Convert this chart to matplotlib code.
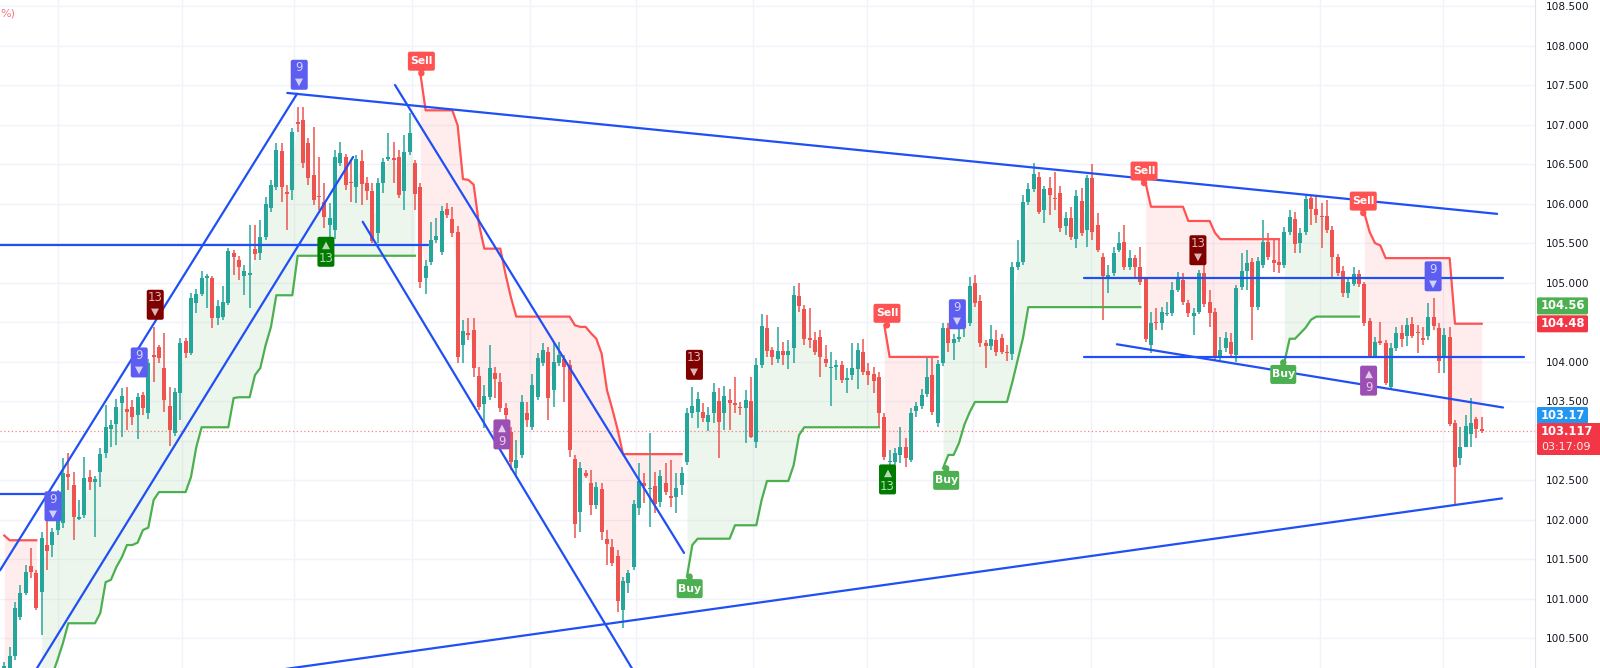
import numpy as np
import matplotlib
matplotlib.use("Agg")
import matplotlib.pyplot as plt
from matplotlib.patches import FancyBboxPatch, Circle, Polygon
from matplotlib.transforms import IdentityTransform

# ---------------- data ----------------
ohlc = [
 (100.05,100.20,99.95,100.15),(100.02,100.39,99.95,100.27),(100.28,100.96,100.23,100.88),(100.77,101.17,100.73,101.07),
 (101.07,101.43,101.05,101.34),(101.42,101.64,101.26,101.34),(101.33,101.36,100.86,100.88),(101.09,101.84,100.54,101.77),
 (101.68,102.03,101.36,101.61),(101.68,101.89,101.53,101.84),(101.87,102.38,101.81,102.31),(101.96,102.78,101.89,102.59),
 (102.58,102.84,102.38,102.54),(102.44,102.60,101.74,102.04),(102.01,102.25,102.00,102.04),(102.06,102.79,102.02,102.53),
 (102.54,102.63,102.38,102.48),(102.48,102.55,101.78,102.52),(102.60,102.91,102.41,102.83),(102.84,103.45,102.78,103.17),
 (103.15,103.26,102.92,103.20),(103.21,103.53,102.95,103.43),(103.48,103.67,103.05,103.57),(103.40,103.68,103.14,103.36),
 (103.43,103.52,103.20,103.30),(103.33,103.60,103.02,103.55),(103.58,103.62,103.33,103.41),(103.35,104.04,103.27,103.98),
 (104.08,104.44,103.74,104.06),(104.19,104.21,103.98,104.05),(103.92,104.36,103.36,103.52),(103.44,103.68,102.93,103.14),
 (103.10,103.67,103.06,103.62),(103.60,104.30,103.26,104.24),(104.26,104.30,104.05,104.11),(104.11,104.87,104.08,104.81),
 (104.74,104.92,104.61,104.86),(104.86,105.15,104.83,105.06),(105.06,105.11,104.68,105.08),(105.06,105.08,104.43,104.55),
 (104.55,104.78,104.46,104.70),(104.57,104.96,104.53,104.76),(104.74,105.44,104.72,105.40),(105.38,105.41,105.10,105.33),
 (105.29,105.34,105.03,105.20),(105.08,105.22,104.84,105.15),(105.10,105.73,104.68,105.12),(105.43,105.73,105.29,105.36),
 (105.37,105.79,105.29,105.58),(105.58,106.08,105.54,106.00),(105.94,106.30,105.89,106.24),(106.21,106.77,106.17,106.68),
 (106.67,106.77,106.02,106.21),(106.15,106.24,105.67,106.12),(106.17,106.96,106.05,106.91),(107.03,107.22,106.91,107.01),
 (107.06,107.22,106.45,106.51),(106.77,106.83,106.24,106.33),(106.36,106.97,105.98,106.05),(106.10,106.59,105.92,106.08),
 (106.02,106.26,105.69,105.83),(105.73,106.01,105.58,105.82),(105.67,106.68,105.55,106.59),(106.51,106.78,106.48,106.64),
 (106.59,106.63,106.17,106.24),(106.27,106.55,106.02,106.26),(106.21,106.61,106.01,106.56),(106.54,106.68,105.98,106.25),
 (106.26,106.34,106.05,106.16),(106.16,106.26,105.50,105.53),(105.63,106.33,105.50,106.26),(106.26,106.58,106.13,106.53),
 (106.56,106.89,106.54,106.59),(106.58,106.78,106.26,106.55),(106.59,106.68,106.07,106.11),(106.16,106.87,105.92,106.65),
 (106.65,107.15,106.61,106.89),(106.51,106.55,105.92,106.12),(106.21,106.26,104.93,105.01),(105.06,105.29,104.86,105.21),
 (105.26,105.77,105.22,105.54),(105.54,105.82,105.50,105.59),(105.39,105.97,105.35,105.91),(105.93,106.01,105.82,105.86),
 (105.81,105.96,105.58,105.63),(105.64,105.72,103.98,104.06),(104.21,104.53,103.98,104.39),(104.36,104.55,104.27,104.34),
 (104.40,104.55,103.81,103.92),(103.82,103.93,103.39,103.43),(103.46,103.70,103.16,103.57),(103.55,104.21,103.52,103.92),
 (103.86,103.93,103.54,103.78),(103.74,103.86,103.36,103.41),(103.41,103.48,103.10,103.33),(103.11,103.17,102.63,102.73),
 (102.65,103.01,102.57,102.76),(102.82,103.58,102.78,103.49),(103.35,103.49,103.17,103.26),(103.17,103.84,103.14,103.70),
 (103.55,104.11,103.52,104.05),(103.98,104.24,103.95,104.15),(104.12,104.19,103.26,103.54),(103.64,104.25,103.43,104.00),
 (103.98,104.25,103.95,104.08),(104.03,104.08,103.49,103.93),(103.96,104.02,102.79,102.88),(102.77,102.82,101.77,101.95),
 (102.10,102.73,101.85,102.66),(102.59,102.63,102.53,102.55),(102.47,102.63,102.06,102.19),(102.19,102.48,102.14,102.41),
 (102.39,102.47,101.74,101.84),(101.76,101.87,101.43,101.69),(101.66,101.76,101.42,101.45),(101.54,101.62,100.83,100.97),
 (100.86,101.28,100.63,101.23),(101.20,101.36,101.07,101.33),(101.40,102.25,101.36,102.20),(102.15,102.72,102.06,102.49),
 (102.47,102.59,102.21,102.43),(102.39,103.10,101.91,102.40),(102.43,102.60,102.09,102.20),(102.23,102.63,102.16,102.55),
 (102.47,102.72,102.31,102.35),(102.29,102.76,102.16,102.28),(102.29,102.59,102.09,102.40),(102.44,102.67,102.31,102.59),
 (102.73,103.41,102.69,103.35),(103.35,103.68,103.29,103.44),(103.36,103.62,103.16,103.53),(103.36,103.48,103.24,103.29),
 (103.24,103.43,103.12,103.33),(103.35,103.73,103.22,103.62),(103.50,103.67,102.78,103.24),(103.35,103.69,103.14,103.57),
 (103.52,103.65,103.14,103.48),(103.48,103.81,103.35,103.45),(103.43,103.49,103.33,103.41),(103.41,103.64,102.97,103.52),
 (103.50,103.81,103.03,103.05),(102.98,104.05,102.91,103.96),(103.96,104.60,103.92,104.45),(104.43,104.59,104.06,104.13),
 (104.15,104.19,103.96,104.06),(104.03,104.44,103.98,104.13),(104.13,104.25,103.96,104.08),(104.08,104.27,103.91,104.13),
 (104.17,104.96,103.98,104.84),(104.83,105.00,104.63,104.70),(104.67,104.72,104.21,104.29),(104.30,104.68,104.17,104.27),
 (104.27,104.38,104.08,104.12),(104.31,104.40,103.81,104.06),(104.03,104.21,103.93,103.98),(103.92,104.12,103.44,103.93),
 (103.93,104.02,103.77,103.96),(103.96,104.01,103.73,103.77),(103.77,103.92,103.60,103.79),(103.83,104.24,103.77,103.92),
 (103.91,104.24,103.65,104.15),(104.12,104.29,103.83,103.87),(103.88,103.98,103.70,103.83),(103.84,103.93,103.60,103.76),
 (103.81,103.87,103.17,103.35),(103.30,103.35,102.76,102.79),(102.73,102.88,102.50,102.74),(102.73,102.91,102.69,102.85),
 (102.82,103.17,102.72,102.92),(102.92,103.03,102.67,102.78),(102.76,103.41,102.73,103.35),(103.38,103.49,103.30,103.44),
 (103.44,103.65,103.40,103.58),(103.59,104.06,103.55,103.81),(103.83,104.06,103.33,103.36),(103.22,104.02,103.17,103.97),
 (103.98,104.49,103.95,104.43),(104.43,104.49,104.12,104.23),(104.23,104.35,104.02,104.29),(104.29,104.44,104.25,104.31),
 (104.44,104.62,104.31,104.53),(104.49,105.07,104.45,104.96),(105.00,105.10,104.69,104.74),(104.77,104.84,104.19,104.23),
 (104.23,104.27,103.92,104.20),(104.20,104.46,104.15,104.29),(104.27,104.40,104.07,104.12),(104.30,104.35,104.10,104.12),
 (104.12,104.21,104.01,104.11),(104.10,105.26,104.02,105.20),(105.20,105.54,105.16,105.26),(105.26,106.11,105.22,106.02),
 (106.02,106.26,105.98,106.18),(106.18,106.51,106.15,106.37),(106.34,106.40,105.87,105.89),(105.92,106.22,105.75,106.18),
 (106.20,106.34,105.86,106.11),(106.07,106.40,105.92,106.06),(106.13,106.22,105.64,105.69),(105.72,105.89,105.60,105.82),
 (105.82,105.96,105.54,105.58),(105.55,106.17,105.44,106.10),(106.03,106.20,105.59,105.63),(105.67,106.36,105.45,106.33),
 (106.33,106.50,105.54,105.64),(105.73,105.88,105.39,105.41),(105.32,105.37,104.53,105.08),(105.07,105.22,104.87,105.10),
 (105.12,105.45,105.08,105.37),(105.41,105.64,105.39,105.50),(105.51,105.73,105.16,105.20),(105.20,105.41,105.16,105.31),
 (105.31,105.35,105.07,105.20),(105.20,105.45,104.97,105.01),(105.06,105.07,104.25,104.29),(104.21,104.63,104.11,104.49),
 (104.50,104.68,104.40,104.49),(104.49,104.69,104.40,104.63),(104.60,104.76,104.58,104.62),(104.62,105.01,104.58,104.91),
 (104.91,105.14,104.88,105.06),(105.03,105.12,104.72,104.76),(104.74,104.78,104.57,104.62),(104.58,104.68,104.34,104.62),
 (104.63,105.16,104.60,105.12),(105.12,105.22,104.69,104.73),(104.76,104.91,104.44,104.62),(104.63,104.68,104.02,104.06),
 (104.06,104.31,104.02,104.15),(104.17,104.38,104.12,104.30),(104.25,104.36,104.06,104.10),(104.08,104.97,104.00,104.93),
 (104.94,105.37,104.91,105.15),(105.15,105.41,104.91,105.25),(105.26,105.31,104.27,104.69),(104.69,105.33,104.65,105.27),
 (105.22,105.79,105.18,105.51),(105.51,105.63,105.29,105.32),(105.29,105.56,105.14,105.25),(105.26,105.54,105.12,105.22),
 (105.22,105.70,105.18,105.64),(105.64,105.92,105.60,105.83),(105.81,105.89,105.38,105.49),(105.50,105.69,105.38,105.63),
 (105.64,106.11,105.60,106.06),(106.07,106.11,105.73,105.93),(105.93,106.11,105.75,105.86),(105.84,106.01,105.44,105.83),
 (105.84,106.05,105.63,105.67),(105.67,105.72,105.06,105.32),(105.32,105.36,105.08,105.12),(105.15,105.21,104.82,104.87),
 (104.87,105.07,104.81,105.01),(104.98,105.20,104.96,105.11),(105.11,105.16,104.94,104.98),(104.98,105.01,104.45,104.49),
 (104.51,104.55,104.05,104.07),(104.07,104.31,104.05,104.25),(104.25,104.50,104.21,104.24),(104.23,104.27,103.70,103.73),
 (103.68,104.24,103.64,104.17),(104.17,104.44,104.14,104.36),(104.36,104.46,104.19,104.29),(104.33,104.55,104.20,104.46),
 (104.48,104.57,104.30,104.33),(104.38,104.46,104.11,104.36),(104.30,104.44,104.21,104.27),(104.33,104.74,104.27,104.57),
 (104.57,104.81,104.40,104.45),(104.43,104.49,103.86,104.01),(104.06,104.43,103.86,104.34),(104.31,104.44,103.19,103.21),
 (103.22,103.26,102.19,102.67),(102.78,103.17,102.69,102.92),(102.92,103.33,102.92,103.19),(103.09,103.54,102.92,103.22),
 (103.27,103.30,103.04,103.15),(103.15,103.30,103.10,103.117),
]
opens = [r[0] for r in ohlc]
highs = [r[1] for r in ohlc]
lows = [r[2] for r in ohlc]
closes = [r[3] for r in ohlc]

# SuperTrend segments: (first bar, values)
green_segments = [
    (7, [99.72, 99.85, 100.04, 100.23, 100.44] + [100.69]*6 + [100.82, 101.21, 101.24, 101.40, 101.52, 101.68, 101.68, 101.71, 101.87, 101.90, 102.25]
        + [102.35]*6 + [102.54, 102.92] + [103.17]*6 + [103.54] + [103.55]*3 + [103.83, 103.92, 104.21, 104.44] + [104.84]*4 + [105.34]*23),
    (128, [101.28, 101.68] + [101.76]*7 + [101.93]*5 + [102.25] + [102.49]*5 + [102.69, 103.07] + [103.17]*15),
    (176, [102.65, 102.82, 102.82, 102.97, 103.20, 103.36] + [103.49]*7 + [103.74, 104.02, 104.30] + [104.69]*22),
    (240, [103.99, 104.29, 104.29, 104.36, 104.43, 104.53] + [104.57]*9),
]
red_segments = [
    (0, [101.80] + [101.74]*6),
    (78, [107.65] + [107.18]*6 + [106.99, 106.31, 106.30, 106.24, 105.74] + [105.43]*4 + [105.10, 104.81] + [104.57]*11
         + [104.46, 104.44, 104.44, 104.36, 104.29, 104.10, 103.64, 103.40, 103.14] + [102.83]*12),
    (165, [104.46] + [104.06]*10),
    (214, [106.26] + [105.96]*7 + [105.78]*5 + [105.63] + [105.55]*12),
    (255, [105.88, 105.64, 105.50, 105.47] + [105.31]*13 + [104.48]*6),
]

# drawn trend lines: ((bar, price), (bar, price))
trend_lines = [
    ((-0.8, 105.47), (79.4, 105.47)),
    ((-0.8, 102.33), (7.95, 102.33)),
    ((-0.8, 101.36), (54.9, 107.39)),
    ((4.0, 99.89), (65.4, 106.59)),
    ((53.06, 107.40), (279.9, 105.87)),
    ((44.1, 100.03), (280.8, 102.27)),
    ((73.26, 107.50), (127.45, 101.58)),
    ((67.2, 105.77), (120.0, 99.86)),
    ((202.5, 105.06), (281.0, 105.06)),
    ((202.5, 104.06), (285.0, 104.06)),
    ((208.6, 104.22), (281.0, 103.42)),
]

# TD sequential labels: (kind, bar, price at label centre)
td_kinds = ['9dn', '9dn', '13dn', '9dn', '13up', '9up', '13dn', '13up', '9dn', '13dn', '9up', '9dn']
td_bars = [9.13, 25.3, 28.3, 55.3, 60.3, 93.3, 129.4, 165.6, 178.7, 223.8, 255.8, 267.9]
td_prices = [102.17, 103.99, 104.72, 107.63, 105.39, 103.08, 103.96, 102.51, 104.60, 105.41, 103.76, 105.08]

# SuperTrend flip signals: (text, bar, price)
sig_text = ['Sell', 'Buy', 'Sell', 'Buy', 'Sell', 'Buy', 'Sell']
sig_bars = [78.2, 128.5, 165.5, 176.6, 213.7, 239.8, 254.8]
sig_prices = [107.65, 101.28, 104.46, 102.65, 106.26, 103.99, 105.88]

price_ticks = [100.5, 101.0, 101.5, 102.0, 102.5, 103.0, 103.5, 104.0, 104.5, 105.0, 105.5, 106.0, 106.5, 107.0, 107.5, 108.0, 108.5]
covered_ticks = [103.0, 104.5]   # hidden behind the price tags
tag_values = ['104.56', '104.48', '103.17']
last_price = 103.117
countdown = '03:17:09'
grid_bars = [10.1, 33.3, 54.3, 76.4, 98.6, 118.5, 140.4, 161.8, 181.6, 203.8, 226.6, 246.7, 269.8]

# ---------------- figure ----------------
W, H = 1600, 668
fig = plt.figure(figsize=(W / 100, H / 100), dpi=100)
AXW = 1535
ax = fig.add_axes([0, 0, AXW / W, 1])
ax.set_xlim(-0.806, 287.0)
ax.set_ylim(100.124, 108.576)
ax.set_facecolor('white')

GREEN, RED = '#26a69a', '#ef5350'
ST_G, ST_R = '#4caf50', '#ff5252'
BLUE = '#1f4ff5'

for p in price_ticks:
    ax.axhline(p, color='#f0f3fa', lw=1, zorder=0)
for g in grid_bars:
    ax.axvline(g, color='#f0f3fa', lw=1, zorder=0)

o = np.array(opens); h = np.array(highs); l = np.array(lows); c = np.array(closes)
xs = np.arange(len(c))
mid = (o + c) / 2
cols = np.where(c >= o, GREEN, RED)

for start, vals in green_segments:
    idx = np.arange(start, start + len(vals))
    ax.fill_between(idx, vals, mid[idx], color=ST_G, alpha=0.1, lw=0, zorder=1)
    ax.plot(idx, vals, color=ST_G, lw=1.6, zorder=5, solid_joinstyle='round')
for start, vals in red_segments:
    idx = np.arange(start, start + len(vals))
    ax.fill_between(idx, vals, mid[idx], color=ST_R, alpha=0.1, lw=0, zorder=1)
    ax.plot(idx, vals, color=ST_R, lw=1.6, zorder=5, solid_joinstyle='round')

ax.vlines(xs, l, h, colors=cols, lw=1.1, zorder=3)
ax.bar(xs, np.maximum(np.abs(c - o), 0.016), bottom=np.minimum(o, c), width=0.74,
       color=cols, lw=0, zorder=4)

ax.axhline(last_price, color=RED, lw=0.9, ls=(0, (1, 2)), alpha=0.7, zorder=2)

for (x0, y0), (x1, y1) in trend_lines:
    ax.plot([x0, x1], [y0, y1], color=BLUE, lw=1.6, zorder=6, solid_capstyle='round')

# axis styling
for s in ['left', 'top', 'bottom']:
    ax.spines[s].set_visible(False)
ax.spines['right'].set_color('#e0e3eb')
ax.set_xticks([])
ax.yaxis.tick_right()
ax.set_yticks(price_ticks)
ax.set_yticklabels(['' if p in covered_ticks else f'{p:.3f}' for p in price_ticks])
ax.tick_params(axis='y', length=0, pad=8, labelsize=7.6, labelcolor='#131722')

fig.text(0, 1 - 14 / H, '%)', color='#f7525f', alpha=0.8, fontsize=8, va='center', ha='left')

fig.canvas.draw()
T = ax.transData


def pbox(xc, yc, w, hh, color, r=2.0, z=20):
    patch = FancyBboxPatch((xc - w / 2, yc - hh / 2), w, hh,
                           boxstyle=f'round,pad=0,rounding_size={r}',
                           transform=IdentityTransform(), fc=color, ec='none', zorder=z)
    fig.add_artist(patch)


def ptext(xc, yc, s, color='white', size=7.5, weight='normal', alpha=1.0, z=21, ha='center'):
    fig.text(xc / W, yc / H, s, color=color, fontsize=size, fontweight=weight,
             ha=ha, va='center', alpha=alpha, zorder=z)


td_style = {'9dn': ('#5d5df2', '9', '▼'), '13dn': ('#800000', '13', '▼'),
            '13up': ('#007b00', '▲', '13'), '9up': ('#9c4fb3', '▲', '9')}
for k, b, p in zip(td_kinds, td_bars, td_prices):
    X, Y = T.transform((b, p))
    col, top, bot = td_style[k]
    pbox(X, Y, 17, 30, col)
    ptext(X, Y + 7, top, color='white', alpha=0.72, size=8.5 if top not in '▲▼' else 7.5)
    ptext(X, Y - 7, bot, color='white', alpha=0.72, size=8.5 if bot not in '▲▼' else 7.5)

for s, b, p in zip(sig_text, sig_bars, sig_prices):
    X, Y = T.transform((b, p))
    col = ST_R if s == 'Sell' else ST_G
    d = 1 if s == 'Sell' else -1
    cy = Y + d * 12
    pbox(X, cy, 27 if s == 'Sell' else 26, 19, col)
    fig.add_artist(Polygon([(X - 4, cy - d * 9), (X + 4, cy - d * 9), (X, Y)], closed=True,
                           transform=IdentityTransform(), fc=col, ec='none', zorder=20))
    fig.add_artist(Circle((X, Y), 3.2, transform=IdentityTransform(), fc=col, ec='none', zorder=20))
    ptext(X, cy, s, color='white', size=7.8, weight='bold')

# price tags on the right axis (layout positions in pixels from the top)
tag_cols = [ST_G, '#f23645', '#2196f3']
tag_tops = [297.4, 315.3, 407.0]
for v, col, top in zip(tag_values, tag_cols, tag_tops):
    yc = H - (top + 8.5)
    pbox(1537 + 25.5, yc, 51, 17, col, r=1.5, z=30)
    ptext(1541, yc, v, size=8.4, weight='bold', z=31, ha='left')
pbox(1537 + 32, H - 439, 64, 32, '#f23645', r=1.5, z=30)
ptext(1541, H - 431.5, f'{last_price:.3f}', size=8.4, weight='bold', z=31, ha='left')
ptext(1541, H - 447, countdown, size=8.0, z=31, ha='left', alpha=0.9)

fig.savefig('out.png', dpi=100)
